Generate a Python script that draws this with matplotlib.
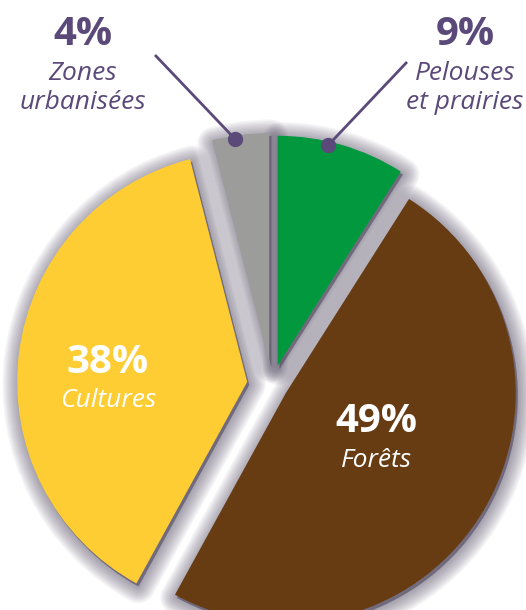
import matplotlib
matplotlib.use("Agg")
import matplotlib.pyplot as plt
import matplotlib.patheffects as pe
import numpy as np

# land use shares, clockwise from 12 o'clock
names = ["Pelouses\net prairies", "Forêts", "Cultures", "Zones\nurbanisées"]
shares = [9, 49, 38, 4]
pct_labels = ["9%", "49%", "38%", "4%"]
colors = ["#02983d", "#673c13", "#fecd33", "#9c9c9b"]
purple = "#5b4a79"
shadow = "#574e66"

W, H = 526, 610
fig = plt.figure(figsize=(W / 100, H / 100), dpi=100)
ax = fig.add_axes([0, 0, 1, 1])

R = 230
cx, cy = 272, H - 385
explode = [20, 16, 25, 22]

# soft drop shadow: same pie shifted a bit, blurred with stacked strokes
glow = [pe.Stroke(linewidth=lw, foreground=shadow, alpha=0.055, joinstyle="round")
        for lw in range(24, 0, -2)]
ax.pie(shares, explode=explode, radius=R, center=(cx + 2, cy - 3),
       colors=[shadow] * 4, startangle=90, counterclock=False,
       wedgeprops=dict(path_effects=glow + [pe.Normal()], zorder=1, linewidth=0, alpha=0.3))
wedges, _ = ax.pie(shares, explode=explode, radius=R, center=(cx, cy),
                   colors=colors, startangle=90, counterclock=False,
                   wedgeprops=dict(zorder=2, linewidth=0))

ax.set_xlim(0, W)
ax.set_ylim(0, H)
ax.axis("off")

bold = dict(family="Open Sans", weight="bold", size=29, ha="center", va="baseline", zorder=5)
ital = dict(family="Open Sans", style="italic", size=19, ha="center", va="baseline", zorder=5)

# labels inside the big slices
ax.text(108, H - 373, pct_labels[2], color="white", **bold)
ax.text(108, H - 407, names[2], color="white", **ital)
ax.text(376, H - 432, pct_labels[1], color="white", **bold)
ax.text(376, H - 467, names[1], color="white", **ital)

# labels outside with leader lines for the small slices
def rim(w, pos=0.6, frac=0.985):
    t = np.deg2rad(w.theta1 + pos * (w.theta2 - w.theta1))
    return w.center[0] + frac * w.r * np.cos(t), w.center[1] + frac * w.r * np.sin(t)

for i, (tx, lx, ly) in {3: (83, 155, 55), 0: (465, 407, 62)}.items():
    ax.text(tx, H - 45, pct_labels[i], color=purple, **bold)
    l1, l2 = names[i].split("\n")
    ax.text(tx, H - 80, l1, color=purple, **ital)
    ax.text(tx, H - 109, l2, color=purple, **ital)
    dx, dy = rim(wedges[i])
    ax.plot([lx, dx], [H - ly, dy], color=purple, lw=2, zorder=6, solid_capstyle="butt")
    ax.plot(dx, dy, "o", color=purple, ms=10, zorder=7)

fig.savefig("out.png", dpi=100)
